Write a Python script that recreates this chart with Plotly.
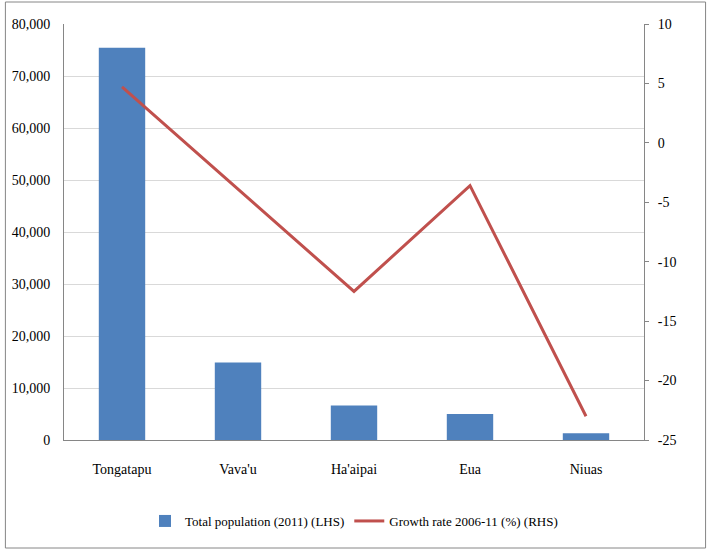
import plotly.graph_objects as go

categories = ["Tongatapu", "Vava'u", "Ha'aipai", "Eua", "Niuas"]
population = [75416, 14922, 6616, 5016, 1282]
growth = [4.7, -3.9, -12.5, -3.6, -23.0]
left_ticks = [0, 10000, 20000, 30000, 40000, 50000, 60000, 70000, 80000]
right_ticks = [-25, -20, -15, -10, -5, 0, 5, 10]

bar_name = "Total population (2011) (LHS)"
line_name = "Growth rate 2006-11 (%) (RHS)"

FONT = "'Liberation Serif', 'Times New Roman', Times, serif"
fig = go.Figure()
fig.add_trace(go.Bar(x=categories, y=population, name=bar_name,
                     marker=dict(color="#4F81BD", line=dict(width=0)), yaxis="y"))
fig.add_trace(go.Scatter(x=categories, y=growth, name=line_name, mode="lines",
                         line=dict(color="#C0504D", width=3), yaxis="y2"))

W, H = 715, 550
L, R, T, B = 60, 71, 24, 110
pw, ph = W - L - R, H - T - B

def px(x):
    return (x - L) / pw

def py(y):
    return (H - B - y) / ph

fig.update_layout(
    width=W, height=H,
    margin=dict(l=L, r=R, t=T, b=B, pad=0),
    paper_bgcolor="white", plot_bgcolor="white",
    font=dict(family=FONT, size=14, color="#000000"),
    bargap=0.6,
    showlegend=True,
    legend=dict(orientation="h", x=0.5, xanchor="center", y=py(521), yanchor="middle",
                font=dict(family=FONT, size=13), itemwidth=30, traceorder="normal"),
    xaxis=dict(showline=True, linecolor="#868686", linewidth=1, showgrid=False,
               ticks="", tickfont=dict(family=FONT, size=14), ticklabelstandoff=16),
    yaxis=dict(range=[0, 80000], tickvals=left_ticks,
               ticktext=[f"{v:,}" for v in left_ticks], showline=True,
               linecolor="#868686", linewidth=1, showgrid=True, gridcolor="#D9D9D9",
               gridwidth=1, ticks="", zeroline=False,
               tickfont=dict(family=FONT, size=14), ticklabelstandoff=10),
    yaxis2=dict(range=[-25, 10], tickvals=right_ticks,
                ticktext=[str(v) for v in right_ticks], overlaying="y", side="right",
                showgrid=False, showline=True, linecolor="#868686", linewidth=1,
                ticks="outside", ticklen=4, tickcolor="#868686", zeroline=False,
                tickfont=dict(family=FONT, size=14), ticklabelstandoff=6),
    shapes=[dict(type="rect", xref="paper", yref="paper",
                 x0=px(1), x1=px(706), y0=py(548), y1=py(2),
                 line=dict(color="#868686", width=1), fillcolor="rgba(0,0,0,0)",
                 layer="below")],
)

fig.write_html("out.html")
